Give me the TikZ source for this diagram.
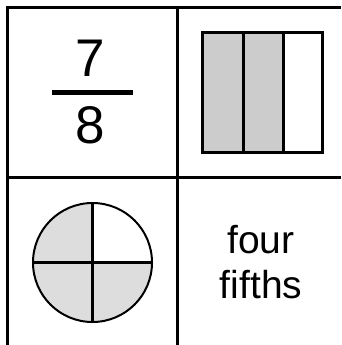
\documentclass[tikz,border=0pt]{standalone}
\usepackage{fontspec}
\setmainfont{Liberation Sans}
\definecolor{shadeA}{HTML}{CCCCCC}
\definecolor{shadeB}{HTML}{DDDDDD}
\begin{document}
\begin{tikzpicture}[x=1pt,y=-1pt,
  gridline/.style={line width=3pt},
  figline/.style={line width=3pt},
  digit/.style={font=\fontsize{53}{53}\selectfont, anchor=base, inner sep=0pt},
  word/.style={font=\fontsize{39}{39}\selectfont, anchor=base, inner sep=0pt}]
\useasboundingbox (0,0) rectangle (341,345);
% grid
\draw[gridline] (7.5,345) -- (7.5,7.5) -- (341,7.5);
\draw[gridline] (177.5,7.5) -- (177.5,345);
\draw[gridline] (7.5,177.5) -- (341,177.5);
% fraction 7/8
\node[digit] (seven) at (90,77) {7};
\node[digit] (eight) at (90,143) {8};
\draw[line width=4.5pt] (52,92.5) -- (133,92.5);
% bar model
\fill[shadeA] (202,33) rectangle (283,152);
\draw[figline] (202,33) rectangle (322,152);
\draw[figline] (243,33) -- (243,152);
\draw[figline] (283,33) -- (283,152);
% circle model
\coordinate (c) at (92.5,262.5);
\begin{scope}
  \clip (c) circle[radius=59.5pt];
  \fill[shadeB] (30,200) rectangle (92.5,325);
  \fill[shadeB] (92.5,262.5) rectangle (155,325);
\end{scope}
\draw[line width=2pt] (c) circle[radius=59.5pt];
\draw[line width=2.5pt] (92.5,203) -- (92.5,322);
\draw[line width=2.5pt] (33,262.5) -- (152,262.5);
% words
\node[word] (four) at (261,253) {four};
\node[word] (fifths) at (261,298) {fifths};
\end{tikzpicture}
\end{document}
